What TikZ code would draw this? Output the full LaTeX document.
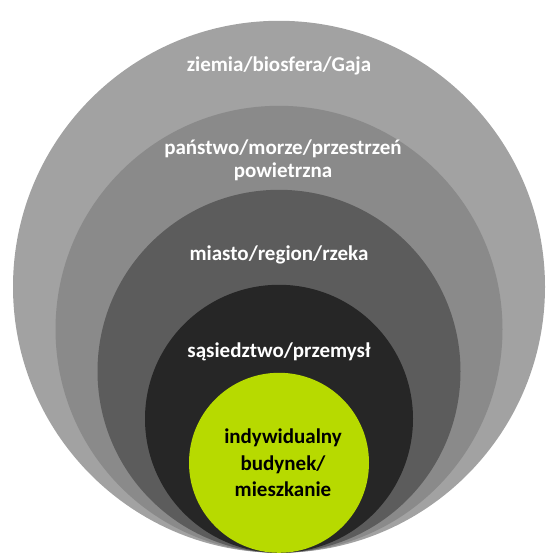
\documentclass[tikz,border=0pt]{standalone}
\usepackage{fontspec}
\setmainfont{Carlito}
\usetikzlibrary{positioning}

\definecolor{earthgray}{HTML}{A2A2A2}
\definecolor{countrygray}{HTML}{8A8A8A}
\definecolor{citygray}{HTML}{5C5C5C}
\definecolor{hoodgray}{HTML}{262626}
\definecolor{homelime}{HTML}{B7DA00}

\tikzset{
    ring/.style={circle, inner sep=0pt, anchor=south},
    ringtext/.style={text=white, font=\fontsize{21}{23}\selectfont\bfseries, align=center},
    hometext/.style={text=black, font=\fontsize{21}{26.5}\selectfont\bfseries, align=center}
}

\begin{document}
\begin{tikzpicture}[x=1pt, y=1pt]
    % Canvas (546 x 554)
    \useasboundingbox (0,0) rectangle (546,554);
    \coordinate (base) at (279,1);

    % --- Nested circles, all resting on one point ---
    \node[ring, fill=earthgray, minimum size=532pt] (earth) at (base) {};
    \node[ring, fill=countrygray, minimum size=447pt] (country) at (base) {};
    \node[ring, fill=citygray, minimum size=363pt] (city) at (base) {};
    \node[ring, fill=hoodgray, minimum size=268pt] (hood) at (base) {};
    \node[ring, fill=homelime, minimum size=180pt] (home) at (base) {};

    % --- Labels ---
    \node[ringtext] (earthlabel) at ([yshift=-45pt]earth.north) {ziemia/biosfera/Gaja};
    \node[ringtext] (countrylabel) at ([xshift=4pt, yshift=-55pt]country.north) {państwo/morze/przestrzeń\\powietrzna};
    \node[ringtext] (citylabel) at ([yshift=-65pt]city.north) {miasto/region/rzeka};
    \node[ringtext] (hoodlabel) at ([yshift=-67pt]hood.north) {sąsiedztwo/przemysł};
    \node[hometext] (homelabel) at ([xshift=4pt]home.center) {indywidualny\\budynek/\\mieszkanie};
\end{tikzpicture}
\end{document}
